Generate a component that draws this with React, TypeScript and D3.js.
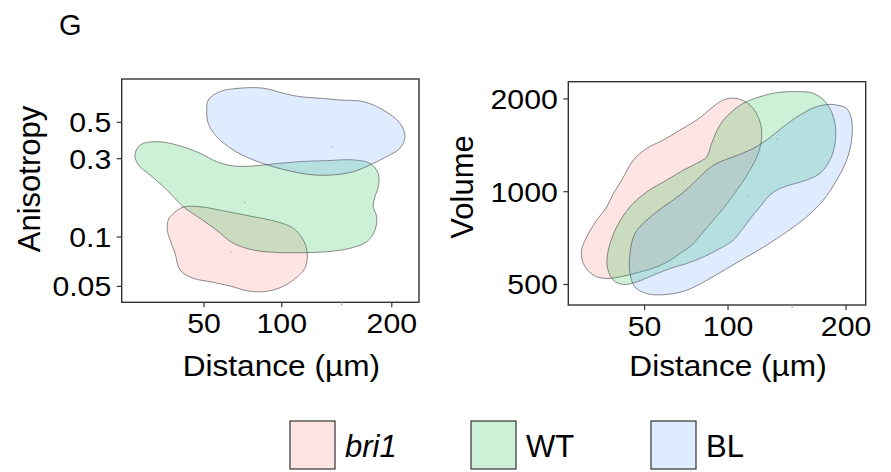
import React from "react";
import * as d3 from "d3";

// groups, in drawing order
const groups = ["bri1", "WT", "BL"];
const groupColors = ["#F8766D", "#00BA38", "#619CFF"];

const distTicks = [50, 100, 200];
const distMinor = [150];
const anisoTicks = [0.05, 0.1, 0.3, 0.5];
const volumeTicks = [500, 1000, 2000];

// density outlines, [distance (µm), anisotropy]
const anisoBri1 = [
  [32.8, 0.127], [35.0, 0.139], [39.6, 0.152], [47.9, 0.153], [62.8, 0.143],
  [79.7, 0.133], [96.2, 0.124], [108.9, 0.113], [116.9, 0.0959], [120.1, 0.0796],
  [118.2, 0.0645], [108.9, 0.0547], [98.7, 0.0491], [86.6, 0.0464], [75.3, 0.0471],
  [64.8, 0.0503], [53.3, 0.0534], [44.5, 0.056], [38.1, 0.0629], [35.8, 0.0796],
  [33.6, 0.0959], [32.4, 0.11],
];
const anisoWT = [
  [20.0, 0.316], [21.8, 0.364], [28.0, 0.381], [36.5, 0.364], [47.9, 0.324],
  [57.0, 0.288], [66.8, 0.271], [79.7, 0.271], [93.7, 0.279], [114.2, 0.288],
  [136.7, 0.292], [161.1, 0.295], [177.4, 0.281], [185.9, 0.244], [185.9, 0.203],
  [182.5, 0.176], [180.8, 0.153], [184.2, 0.133], [182.5, 0.11], [174.2, 0.0936],
  [158.0, 0.0853], [136.7, 0.0813], [114.2, 0.0802], [93.7, 0.0807], [79.7, 0.0833],
  [66.8, 0.0916], [57.0, 0.11], [47.9, 0.13], [39.6, 0.153], [35.0, 0.176],
  [30.7, 0.203], [25.4, 0.239], [21.2, 0.275],
];
const anisoBL = [
  [51.5, 0.594], [52.3, 0.684], [58.9, 0.769], [71.0, 0.807], [86.6, 0.807],
  [101.2, 0.751], [114.2, 0.716], [130.9, 0.701], [148.6, 0.684], [170.8, 0.668],
  [191.0, 0.594], [208.8, 0.493], [214.3, 0.409], [208.8, 0.348], [194.6, 0.309],
  [177.4, 0.275], [161.1, 0.25], [142.6, 0.239], [125.1, 0.239], [108.9, 0.25],
  [93.7, 0.268], [79.7, 0.295], [66.8, 0.339], [57.0, 0.409], [52.3, 0.493],
];

// density outlines, [distance (µm), volume]
const volBri1 = [
  [101.4, 2010], [108.6, 1995], [117.3, 1887], [123.7, 1687], [125.0, 1508],
  [122.4, 1332], [116.0, 1175], [109.8, 1064], [103.7, 975], [96.7, 882],
  [89.9, 809], [83.4, 741], [76.1, 671], [69.1, 630], [63.4, 599],
  [56.2, 570], [47.7, 549], [40.0, 532], [33.0, 523], [27.8, 536],
  [24.2, 585], [23.6, 646], [25.4, 714], [29.1, 809], [33.0, 893],
  [35.7, 987], [39.3, 1091], [44.6, 1267], [51.1, 1383], [59.7, 1471],
  [69.1, 1585], [79.2, 1709], [89.9, 1887], [95.6, 1974],
];
const volWT = [
  [154.0, 2112], [168.8, 2086], [181.3, 1936], [189.2, 1667], [189.2, 1435],
  [184.4, 1267], [175.0, 1147], [162.8, 1091], [151.1, 1059], [139.8, 1025],
  [131.6, 975], [123.7, 893], [117.3, 829], [109.8, 750], [103.7, 696],
  [94.4, 654], [83.4, 614], [73.1, 585], [63.4, 563], [54.4, 536],
  [46.2, 510], [40.0, 500], [35.7, 516], [33.2, 570], [33.6, 646],
  [37.1, 769], [43.0, 893], [51.1, 999], [61.6, 1091], [71.1, 1175],
  [79.2, 1236], [85.6, 1298], [88.8, 1435], [94.4, 1646], [101.4, 1797],
  [111.0, 1936], [123.7, 2033], [137.1, 2096],
];
const volBL = [
  [190.8, 1911], [200.6, 1865], [205.6, 1709], [205.6, 1471], [200.6, 1267],
  [190.8, 1091], [178.1, 939], [162.8, 829], [145.4, 741], [129.0, 671],
  [113.5, 614], [99.1, 563], [85.6, 516], [73.1, 479], [61.6, 464],
  [51.1, 467], [45.3, 491], [43.0, 543], [43.0, 630], [45.3, 732],
  [51.1, 809], [59.7, 893], [69.1, 975], [79.2, 1091], [85.6, 1175],
  [92.2, 1236], [103.7, 1298], [116.0, 1365], [129.0, 1471], [142.6, 1625],
  [156.9, 1774], [171.9, 1887], [184.4, 1921],
];

// small centre points
const anisoCentres = [[65.3, 0.0813], [74.2, 0.162], [141.1, 0.355]];
const volCentres = [[71.1, 1099], [137.6, 1479], [114.0, 968]];

const FONT = "Liberation Sans, Arial, Helvetica, sans-serif";

type Pt = number[];

function Panel({ box, xScale, yScale, yTicks, shapes, centres, yTitle, yTitleX, yTitleY, tickFmt }: any) {
  const line = d3
    .line<Pt>()
    .x((d) => xScale(d[0]))
    .y((d) => yScale(d[1]))
    .curve(d3.curveCatmullRomClosed.alpha(0.5));

  return (
    <g>
      {shapes.map((s: Pt[], i: number) => (
        <path
          key={groups[i]}
          d={line(s) || ""}
          fill={groupColors[i]}
          fillOpacity={0.2}
          stroke="#555"
          strokeOpacity={0.75}
          strokeWidth={0.9}
        />
      ))}
      {centres.map((c: Pt, i: number) => (
        <circle key={i} cx={xScale(c[0])} cy={yScale(c[1])} r={0.7} fill={groupColors[i]} opacity={0.7} />
      ))}
      <rect
        x={box.x0}
        y={box.y0}
        width={box.x1 - box.x0}
        height={box.y1 - box.y0}
        fill="none"
        stroke="#333"
        strokeWidth={1.4}
      />
      {/* y axis */}
      {yTicks.map((t: number) => (
        <g key={t} transform={`translate(${box.x0},${yScale(t)})`}>
          <line x1={-5} x2={0} stroke="#333" strokeWidth={1.2} />
          <text
            transform="translate(-10.5,9.8) scale(1.08,1)"
            textAnchor="end"
            fontSize={28}
            fill="#000"
          >
            {tickFmt(t)}
          </text>
        </g>
      ))}
      {/* x axis */}
      {distTicks.map((t) => (
        <g key={t} transform={`translate(${xScale(t)},${box.y1})`}>
          <line y1={0} y2={5} stroke="#333" strokeWidth={1.2} />
          <text transform="translate(0,31) scale(1.08,1)" textAnchor="middle" fontSize={28} fill="#000">
            {t}
          </text>
        </g>
      ))}
      {distMinor.map((t) => (
        <line key={t} x1={xScale(t)} x2={xScale(t)} y1={box.y1} y2={box.y1 + 3} stroke="#999" strokeWidth={1} />
      ))}
      <text
        transform={`translate(${(box.x0 + box.x1) / 2 + 11},376) scale(1.09,1)`}
        textAnchor="middle"
        fontSize={29}
        fill="#000"
      >
        Distance (µm)
      </text>
      <text
        transform={`translate(${yTitleX},${yTitleY}) rotate(-90)`}
        textAnchor="middle"
        fontSize={31}
        fill="#000"
      >
        {yTitle}
      </text>
    </g>
  );
}

export default function App() {
  const width = 891;
  const height = 472;

  const leftBox = { x0: 121.7, x1: 419, y0: 79, y1: 302.3 };
  const rightBox = { x0: 568.3, x1: 865.7, y0: 81.7, y1: 305 };

  const xLeft = d3.scaleSqrt().domain([15.8, 230]).range([leftBox.x0, leftBox.x1]);
  const yLeft = d3.scaleLog().domain([0.04, 0.918]).range([leftBox.y1, leftBox.y0]);
  const xRight = d3.scaleSqrt().domain([19.3, 220]).range([rightBox.x0, rightBox.x1]);
  const yRight = d3.scaleLog().domain([429, 2275]).range([rightBox.y1, rightBox.y0]);

  const legendX = [290, 471, 651];

  return (
    <div style={{ position: "fixed", left: 0, top: 0 }}>
      <svg width={width} height={height} style={{ display: "block", background: "#fff", fontFamily: FONT }}>
        <text x={59} y={35} fontSize={29} fill="#000">
          G
        </text>
        <Panel
          box={leftBox}
          xScale={xLeft}
          yScale={yLeft}
          yTicks={anisoTicks}
          shapes={[anisoBri1, anisoWT, anisoBL]}
          centres={anisoCentres}
          yTitle="Anisotropy"
          yTitleX={40}
          yTitleY={179}
          tickFmt={(t: number) => String(t)}
        />
        <Panel
          box={rightBox}
          xScale={xRight}
          yScale={yRight}
          yTicks={volumeTicks}
          shapes={[volBri1, volWT, volBL]}
          centres={volCentres}
          yTitle="Volume"
          yTitleX={473}
          yTitleY={187}
          tickFmt={(t: number) => String(t)}
        />
        {/* legend */}
        {groups.map((g, i) => (
          <g key={g} transform={`translate(${legendX[i]},421)`}>
            <rect width={45} height={48} fill={groupColors[i]} fillOpacity={0.2} stroke="#333" strokeWidth={1.2} />
            <text x={55} y={36} fontSize={31} fontStyle={i === 0 ? "italic" : "normal"} fill="#000">
              {g}
            </text>
          </g>
        ))}
      </svg>
    </div>
  );
}
